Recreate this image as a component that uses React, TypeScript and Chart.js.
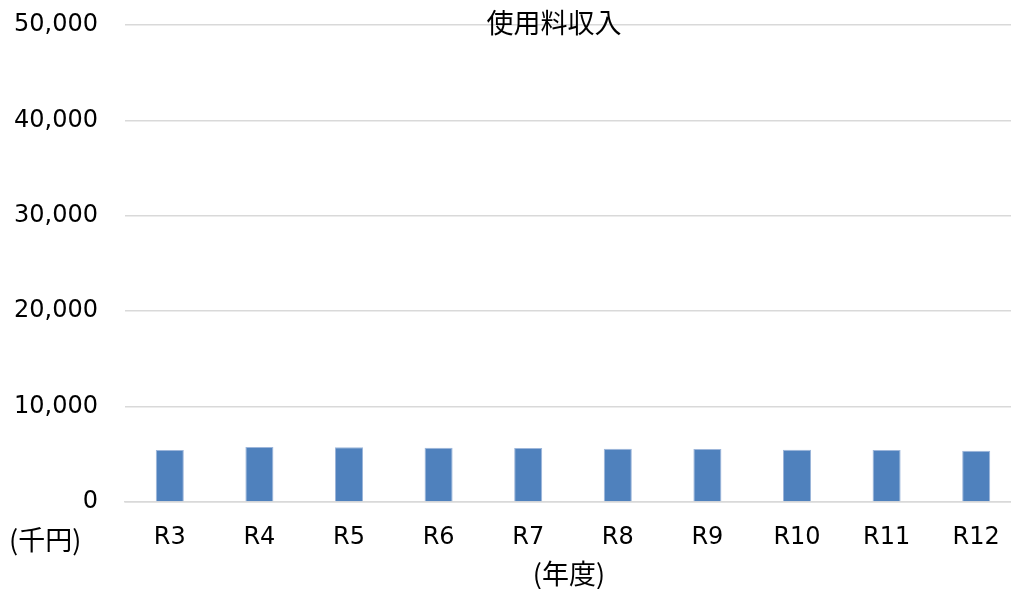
import React, { useEffect, useRef } from "react";
import { Chart, registerables } from "chart.js";

Chart.register(...registerables);

const categories = ["R3", "R4", "R5", "R6", "R7", "R8", "R9", "R10", "R11", "R12"];
const usageFeeIncome = [5450, 5760, 5730, 5690, 5660, 5590, 5550, 5480, 5450, 5380];
const yTicks = [0, 10000, 20000, 30000, 40000, 50000];

const chartTitle = "使用料収入";
const yUnitLabel = "(千円)";
const xAxisLabel = "(年度)";

const LATIN = "'DejaVu Sans', Verdana, sans-serif";
const CJK = "'Noto Sans CJK JP', 'DejaVu Sans', sans-serif";

const labelsPlugin = {
  id: "extraLabels",
  afterDraw(chart: any) {
    const ctx = chart.ctx;
    ctx.save();
    ctx.fillStyle = "#000000";
    ctx.textBaseline = "middle";
    ctx.textAlign = "center";
    ctx.font = `27px ${CJK}`;
    ctx.fillText(chartTitle, 554, 23);
    ctx.textAlign = "left";
    ctx.fillText(yUnitLabel, 9, 540);
    ctx.textAlign = "center";
    ctx.fillText(xAxisLabel, 569, 574);
    ctx.restore();
  },
};

export default function App() {
  const ref = useRef<HTMLCanvasElement | null>(null);
  useEffect(() => {
    document.body.style.margin = "0";
    document.body.style.overflow = "hidden";
    const chart = new Chart(ref.current!, {
      type: "bar",
      data: {
        labels: categories,
        datasets: [
          {
            label: chartTitle,
            data: usageFeeIncome,
            backgroundColor: "#4f81bd",
            borderColor: "#9db6da",
            borderWidth: 1,
            barPercentage: 0.313,
            categoryPercentage: 1,
          },
        ],
      },
      options: {
        responsive: false,
        animation: false,
        devicePixelRatio: 1,
        layout: { padding: { top: 25, left: 0, right: 0, bottom: 0 } },
        plugins: {
          legend: { display: false },
          tooltip: { enabled: false },
          title: { display: false },
        },
        scales: {
          x: {
            grid: { display: false, drawTicks: false },
            border: { display: true, color: "#d9d9d9", width: 1.5 },
            ticks: {
              color: "#000000",
              font: { family: LATIN, size: 24 },
              padding: 21,
              maxRotation: 0,
              autoSkip: false,
            },
            afterFit(scale: any) {
              scale.height = 87;
              scale.paddingLeft = 0;
              scale.paddingRight = 0;
            },
          },
          y: {
            min: 0,
            max: 50000,
            afterBuildTicks(scale: any) {
              scale.ticks = yTicks.map((v) => ({ value: v }));
            },
            grid: { color: "#d9d9d9", lineWidth: 1.5, drawTicks: false },
            border: { display: false },
            ticks: {
              color: "#000000",
              font: { family: LATIN, size: 24 },
              padding: 27,
              callback: (v: any) => Number(v).toLocaleString("en-US"),
            },
            afterFit(scale: any) {
              scale.width = 125;
              scale.paddingTop = 0;
              scale.paddingBottom = 0;
            },
          },
        },
      },
      plugins: [labelsPlugin],
    });
    return () => chart.destroy();
  }, []);
  return (
    <div style={{ position: "absolute", left: 0, top: 0, width: 1011, height: 589, overflow: "hidden" }}>
      <canvas ref={ref} width={1021} height={589} style={{ display: "block" }} />
    </div>
  );
}
